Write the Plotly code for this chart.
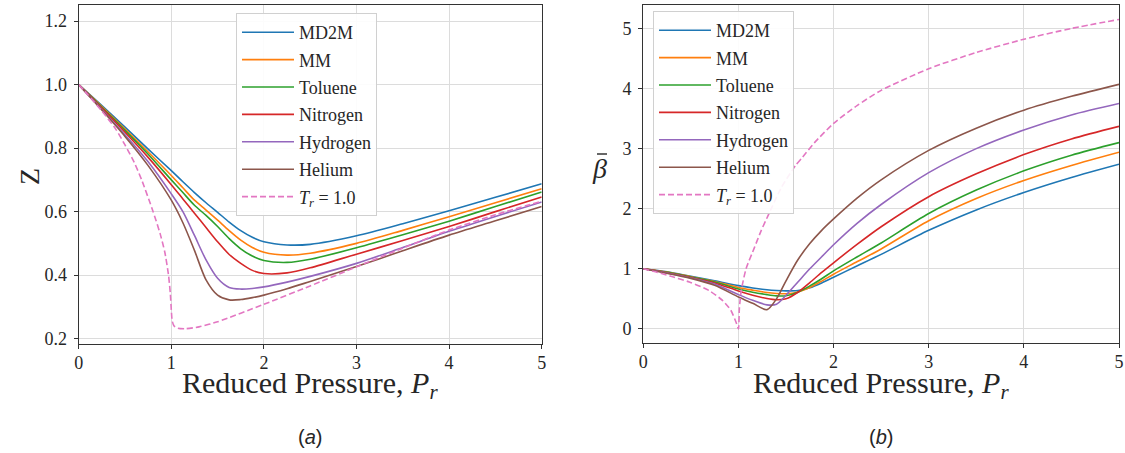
import plotly.graph_objects as go

# ---------------- data ----------------
FLUIDS = ["MD2M", "MM", "Toluene", "Nitrogen", "Hydrogen", "Helium"]
COLORS = ["#1f77b4", "#ff7f0e", "#2ca02c", "#d62728", "#9467bd", "#8c564b"]
TR1_COLOR = "#e377c2"
TR1_LABEL = "<i>T</i><sub><i>r</i></sub> = 1.0"

# (a) compressibility factor Z
PR_Z = [0, 0.25, 0.5, 0.75, 1.0, 1.125, 1.25, 1.375, 1.5, 1.625, 1.75, 1.875,
        2.0, 2.25, 2.5, 3.0, 3.5, 4.0, 4.5, 5.0]
Z_MD2M = [1.000, 0.934, 0.866, 0.797, 0.729, 0.694, 0.660, 0.628, 0.598, 0.567,
          0.540, 0.519, 0.505, 0.495, 0.497, 0.524, 0.562, 0.603, 0.645, 0.688]
Z_MM = [1.000, 0.931, 0.860, 0.788, 0.714, 0.675, 0.636, 0.605, 0.573, 0.540,
        0.510, 0.487, 0.472, 0.463, 0.469, 0.500, 0.541, 0.584, 0.628, 0.672]
Z_TOLUENE = [1.000, 0.929, 0.856, 0.781, 0.700, 0.660, 0.620, 0.588, 0.553, 0.515,
             0.483, 0.460, 0.446, 0.440, 0.450, 0.486, 0.527, 0.570, 0.616, 0.662]
Z_NITROGEN = [1.000, 0.926, 0.850, 0.771, 0.685, 0.640, 0.595, 0.550, 0.505, 0.465,
              0.437, 0.415, 0.405, 0.407, 0.423, 0.466, 0.509, 0.553, 0.600, 0.646]
Z_HYDROGEN = [1.000, 0.922, 0.842, 0.757, 0.656, 0.600, 0.525, 0.448, 0.390, 0.361,
              0.356, 0.358, 0.363, 0.378, 0.396, 0.437, 0.487, 0.538, 0.585, 0.630]
Z_HELIUM = [1.000, 0.920, 0.837, 0.745, 0.636, 0.565, 0.478, 0.385, 0.337, 0.322,
            0.323, 0.329, 0.337, 0.357, 0.380, 0.427, 0.477, 0.526, 0.571, 0.616]

PR_Z_TR1 = [0, 0.1, 0.25, 0.4, 0.5, 0.6, 0.68, 0.8, 0.88, 0.93, 0.97, 0.99, 1.0,
            1.01, 1.03, 1.07, 1.15, 1.3, 1.5, 2.0, 2.5, 3.0, 3.5, 4.0, 4.5, 5.0]
Z_TR1 = [1.000, 0.968, 0.917, 0.860, 0.810, 0.755, 0.700, 0.603, 0.530, 0.472,
         0.400, 0.340, 0.290, 0.255, 0.240, 0.233, 0.231, 0.237, 0.253, 0.308,
         0.366, 0.426, 0.485, 0.542, 0.590, 0.633]

# (b) normalised expansivity beta-bar
PR_B = [0, 0.25, 0.5, 0.75, 1.0, 1.15, 1.3, 1.4, 1.5, 1.625, 1.75, 1.875,
        2.0, 2.25, 2.5, 3.0, 3.5, 4.0, 4.5, 5.0]
B_MD2M = [1.000, 0.950, 0.875, 0.800, 0.720, 0.680, 0.650, 0.638, 0.632, 0.640,
          0.685, 0.765, 0.860, 1.050, 1.240, 1.640, 1.980, 2.270, 2.520, 2.740]
B_MM = [1.000, 0.945, 0.868, 0.790, 0.690, 0.645, 0.605, 0.590, 0.585, 0.615,
        0.690, 0.795, 0.910, 1.120, 1.330, 1.800, 2.170, 2.470, 2.720, 2.940]
B_TOLUENE = [1.000, 0.940, 0.862, 0.780, 0.665, 0.610, 0.570, 0.550, 0.550, 0.610,
             0.715, 0.835, 0.965, 1.200, 1.430, 1.920, 2.310, 2.630, 2.890, 3.100]
B_NITROGEN = [1.000, 0.935, 0.855, 0.765, 0.630, 0.560, 0.505, 0.485, 0.500, 0.610,
              0.770, 0.940, 1.100, 1.410, 1.700, 2.200, 2.580, 2.900, 3.160, 3.370]
B_HYDROGEN = [1.000, 0.930, 0.848, 0.745, 0.570, 0.475, 0.400, 0.410, 0.560, 0.780,
              1.000, 1.200, 1.400, 1.760, 2.070, 2.600, 3.000, 3.310, 3.560, 3.750]
B_HELIUM = [1.000, 0.925, 0.840, 0.725, 0.530, 0.425, 0.320, 0.500, 0.800, 1.150,
            1.420, 1.640, 1.830, 2.180, 2.480, 2.970, 3.340, 3.640, 3.870, 4.070]

PR_B_TR1 = [0, 0.15, 0.3, 0.484, 0.69, 0.835, 0.92, 0.975, 1.0, 1.01, 1.03, 1.08,
            1.17, 1.24, 1.31, 1.45, 1.6, 1.675, 1.8, 2.0, 2.25, 2.5, 3.0, 3.5,
            4.0, 4.5, 5.0]
B_TR1 = [1.000, 0.940, 0.870, 0.780, 0.640, 0.470, 0.310, 0.110, 0.000, 0.350,
         0.640, 1.000, 1.360, 1.640, 1.880, 2.350, 2.720, 2.860, 3.100, 3.420,
         3.720, 3.970, 4.330, 4.600, 4.820, 5.000, 5.150]

Z_SERIES = [Z_MD2M, Z_MM, Z_TOLUENE, Z_NITROGEN, Z_HYDROGEN, Z_HELIUM]
B_SERIES = [B_MD2M, B_MM, B_TOLUENE, B_NITROGEN, B_HYDROGEN, B_HELIUM]

XLABEL = "Reduced Pressure, <i>P</i><sub><i>r</i></sub>"

# ---------------- figure ----------------
W, H = 1125, 453
SERIF = "Liberation Serif, Times New Roman, serif"
SANS = "Liberation Sans, Arial, sans-serif"
INK = "#262626"

fig = go.Figure()

for name, color, z in zip(FLUIDS, COLORS, Z_SERIES):
    fig.add_trace(go.Scatter(
        x=PR_Z, y=z, name=name, mode="lines",
        line=dict(color=color, width=1.6, shape="spline", smoothing=0.8),
        xaxis="x", yaxis="y", legend="legend", legendgroup="a_" + name))
fig.add_trace(go.Scatter(
    x=PR_Z_TR1, y=Z_TR1, name=TR1_LABEL, mode="lines",
    line=dict(color=TR1_COLOR, width=1.6, dash="6px,3px", shape="spline", smoothing=0.6),
    xaxis="x", yaxis="y", legend="legend", legendgroup="a_tr1"))

for name, color, b in zip(FLUIDS, COLORS, B_SERIES):
    fig.add_trace(go.Scatter(
        x=PR_B, y=b, name=name, mode="lines",
        line=dict(color=color, width=1.6, shape="spline", smoothing=0.8),
        xaxis="x2", yaxis="y2", legend="legend2", legendgroup="b_" + name))
fig.add_trace(go.Scatter(
    x=PR_B_TR1, y=B_TR1, name=TR1_LABEL, mode="lines",
    line=dict(color=TR1_COLOR, width=1.6, dash="6px,3px", shape="spline", smoothing=0.6),
    xaxis="x2", yaxis="y2", legend="legend2", legendgroup="b_tr1"))


def px_x(p):
    return p / W


def px_y(p):
    return 1 - p / H


axis_common = dict(
    showline=True, mirror=True, linecolor="#333333", linewidth=1.2,
    showgrid=True, gridcolor="#dcdcdc", gridwidth=1, zeroline=False,
    ticks="outside", ticklen=4, tickwidth=1, tickcolor="#333333",
    tickfont=dict(family=SERIF, size=18, color=INK), automargin=False,
)

legend_common = dict(
    bgcolor="rgba(255,255,255,0.9)", bordercolor="#d0d0d0", borderwidth=1,
    font=dict(family=SERIF, size=18, color=INK), xanchor="left", yanchor="top",
    itemwidth=52, tracegroupgap=1, traceorder="grouped",
)


def label(text, x, y, size, family=SERIF, angle=0):
    return dict(text=text, x=px_x(x), y=px_y(y), xref="paper", yref="paper",
                showarrow=False, textangle=angle, xanchor="center", yanchor="middle",
                font=dict(family=family, size=size, color=INK))


fig.update_layout(
    width=W, height=H, template="none",
    paper_bgcolor="white", plot_bgcolor="white",
    margin=dict(l=0, r=0, t=0, b=0),
    showlegend=True,
    xaxis=dict(axis_common, domain=[px_x(78.7), px_x(541.7)], range=[0, 5],
               tickvals=[0, 1, 2, 3, 4, 5], anchor="y", ticklabelstandoff=-2),
    yaxis=dict(axis_common, domain=[px_y(344), px_y(5.3)], range=[0.183, 1.25],
               tickvals=[0.2, 0.4, 0.6, 0.8, 1.0, 1.2], tickformat=".1f",
               anchor="x", ticklabelstandoff=3),
    xaxis2=dict(axis_common, domain=[px_x(643.3), px_x(1119)], range=[0, 5],
                tickvals=[0, 1, 2, 3, 4, 5], anchor="y2", ticklabelstandoff=-2),
    yaxis2=dict(axis_common, domain=[px_y(343.3), px_y(5)], range=[-0.24, 5.39],
                tickvals=[0, 1, 2, 3, 4, 5], anchor="x2", ticklabelstandoff=3),
    legend=dict(legend_common, x=px_x(236), y=px_y(13)),
    legend2=dict(legend_common, x=px_x(653), y=px_y(11)),
    annotations=[
        # axis labels
        label(XLABEL, 310, 385, 30),
        label(XLABEL, 881, 385, 30),
        label("Z", 29, 177, 28, angle=-90),
        label("<i>\u03b2</i>", 599, 168, 28),
        # panel captions
        label("(<i>a</i>)", 310, 436.7, 20, family=SANS),
        label("(<i>b</i>)", 881, 436.7, 20, family=SANS),
    ],
    # bar accent over the beta of the right-hand y label
    shapes=[dict(type="line", xref="paper", yref="paper",
                 x0=px_x(597), x1=px_x(607), y0=px_y(154), y1=px_y(154),
                 line=dict(color=INK, width=1.4))],
)

fig.write_html("out.html")
